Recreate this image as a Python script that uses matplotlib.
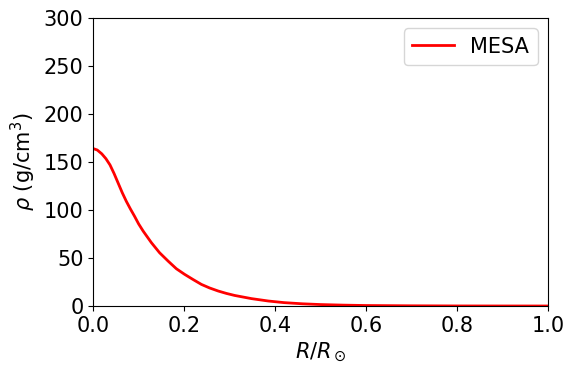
import matplotlib
matplotlib.use('Agg')
import matplotlib.pyplot as plt
plt.rcParams['font.size'] = 15

# radius (R/Rsun) and density (g/cm^3)
r = [0.0, 0.009, 0.019, 0.028, 0.037, 0.046, 0.055, 0.064, 0.073, 0.082,
     0.091, 0.100, 0.110, 0.128, 0.146, 0.165, 0.183, 0.201, 0.22, 0.238,
     0.256, 0.275, 0.293, 0.311, 0.348, 0.385, 0.42, 0.46, 0.5,
     0.55, 0.6, 0.7, 0.8, 0.9, 1.0]
rho = [164, 162.5, 158.5, 153.5, 147, 138, 128, 118, 109, 101,
       93.5, 85.5, 78, 66, 55.5, 46.7, 38.8, 33, 27.5, 22.5,
       18.8, 15.6, 13.1, 11, 7.7, 5.2, 3.5, 2.3, 1.5,
       0.9, 0.5, 0.2, 0.06, 0.02, 0.0]

fig = plt.figure(figsize=(5.75, 3.75), dpi=100)
ax = fig.add_axes([0.162, 0.184, 0.791, 0.768])
ax.plot(r, rho, color='red', lw=2, label='MESA')
ax.set_xlim(0, 1)
ax.set_ylim(0, 300)
ax.set_xlabel(r'$R/R_\odot$')
ax.set_ylabel(r'$\rho$ (g/cm$^3$)')
ax.legend(loc='upper right')
fig.savefig('out.png')
